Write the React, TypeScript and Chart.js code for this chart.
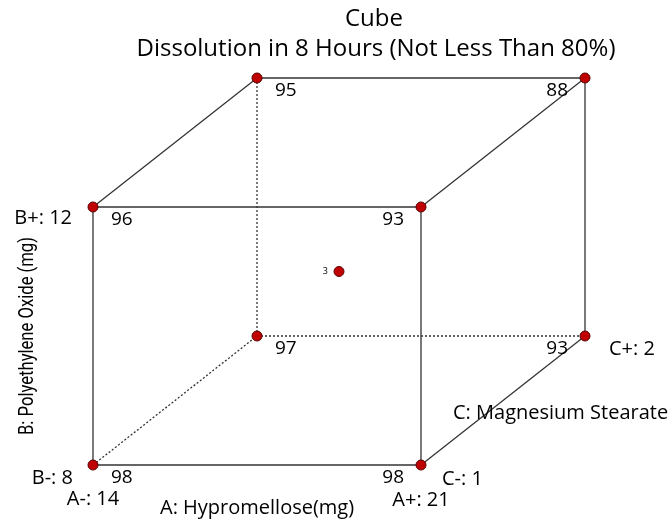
import React, { useEffect, useRef } from "react";
import { Chart, registerables } from "chart.js";

Chart.register(...registerables);

// Coded factor levels for the 8 cube corners (A, B, C) and their responses
const factorA = [-1, 1, -1, 1, -1, 1, -1, 1];
const factorB = [-1, -1, 1, 1, -1, -1, 1, 1];
const factorC = [-1, -1, -1, -1, 1, 1, 1, 1];
const responses = [98, 98, 96, 93, 97, 93, 95, 88];
const centerRuns = 3;

// Cube edges as pairs of corner indices, and whether the edge is hidden (dashed)
const edgeFrom = [0, 0, 1, 2, 4, 4, 5, 6, 0, 1, 2, 3];
const edgeTo = [1, 2, 3, 3, 5, 6, 7, 7, 4, 5, 6, 7];
const edgeHidden = [false, false, false, false, true, true, false, false, true, false, false, false];

const titleText = "Cube";
const subtitleText = "Dissolution in 8 Hours (Not Less Than 80%)";
const axisA = "A: Hypromellose(mg)";
const axisB = "B: Polyethylene Oxide (mg)";
const axisC = "C: Magnesium Stearate";
const levelA = ["A-: 14", "A+: 21"];
const levelB = ["B-: 8", "B+: 12"];
const levelC = ["C-: 1", "C+: 2"];

const DEPTH = 0.5;
const proj = (a: number, b: number, c: number) => ({
  x: (a + 1) / 2 + DEPTH * (c + 1) / 2,
  y: (b + 1) / 2 + DEPTH * (c + 1) / 2,
});

const FONT = "'Open Sans', 'Noto Sans', sans-serif";

export default function App() {
  const ref = useRef<HTMLCanvasElement | null>(null);

  useEffect(() => {
    document.body.style.margin = "0";
    const canvas = ref.current!;
    const corners = factorA.map((a, i) => proj(a, factorB[i], factorC[i]));
    const center = proj(0, 0, 0);

    const edgeSets: any[] = edgeFrom.map((f, i) => ({
      type: "line",
      data: [corners[f], corners[edgeTo[i]]],
      borderColor: "#333333",
      borderWidth: 1.3,
      borderDash: edgeHidden[i] ? [2, 2] : [],
      pointRadius: 0,
      showLine: true,
      fill: false,
      order: 2,
    }));

    const pointSet: any = {
      type: "scatter",
      data: [...corners, center],
      backgroundColor: "#c00000",
      borderColor: "#5a0000",
      borderWidth: 1,
      pointRadius: 5,
      order: 1,
    };

    const labelPlugin = {
      id: "cubeLabels",
      afterDraw(chart: any) {
        const ctx = chart.ctx;
        const xs = chart.scales.x;
        const ys = chart.scales.y;
        const px = (p: { x: number; y: number }) => ({ x: xs.getPixelForValue(p.x), y: ys.getPixelForValue(p.y) });
        ctx.save();
        ctx.fillStyle = "#000";
        ctx.textBaseline = "middle";

        const p0 = px(corners[0]);
        const p1 = px(corners[1]);
        const p2 = px(corners[2]);
        const p5 = px(corners[5]);
        const p6 = px(corners[6]);
        const p7 = px(corners[7]);
        const midX = (p6.x + p7.x) / 2 - 55;

        // titles
        ctx.textAlign = "center";
        ctx.font = `24px ${FONT}`;
        ctx.fillText(titleText, midX + 8, 19);
        ctx.fillText(subtitleText, midX + 10, 49);

        // response values at corners
        ctx.font = `19px ${FONT}`;
        corners.forEach((c, i) => {
          const p = px(c);
          if (factorA[i] < 0) {
            ctx.textAlign = "left";
            ctx.fillText(String(responses[i]), p.x + 18, p.y + 13);
          } else {
            ctx.textAlign = "right";
            ctx.fillText(String(responses[i]), p.x - 17, p.y + 13);
          }
        });

        // level labels
        ctx.font = `20px ${FONT}`;
        ctx.textAlign = "right";
        ctx.fillText(levelB[0], p0.x - 20, p0.y + 13);
        ctx.fillText(levelB[1], p2.x - 21, p2.y + 11);
        ctx.textAlign = "center";
        ctx.fillText(levelA[0], p0.x, p0.y + 34);
        ctx.fillText(levelA[1], p1.x, p1.y + 35);
        ctx.textAlign = "left";
        ctx.fillText(levelC[0], p1.x + 21, p1.y + 14);
        ctx.fillText(levelC[1], p5.x + 24, p5.y + 13);

        // axis names
        ctx.textAlign = "left";
        ctx.fillText(axisA, p0.x + 67, p0.y + 43);
        const mid = { x: (p1.x + p5.x) / 2, y: (p1.y + p5.y) / 2 };
        ctx.fillText(axisC, mid.x - 50, mid.y + 13);

        ctx.save();
        ctx.font = `20px Roboto, 'DejaVu Sans Condensed', sans-serif`;
        const w = ctx.measureText(axisB).width;
        ctx.translate(p0.x - 65, (p0.y + p2.y) / 2);
        ctx.rotate(-Math.PI / 2);
        ctx.scale(198 / w, 1);
        ctx.textAlign = "center";
        ctx.fillText(axisB, 0, 0);
        ctx.restore();

        // center point count
        const pc = px(center);
        ctx.font = `9px ${FONT}`;
        ctx.textAlign = "right";
        ctx.fillText(String(centerRuns), pc.x - 11, pc.y);
        ctx.restore();
      },
    };

    const chart = new Chart(canvas, {
      type: "scatter",
      data: { datasets: [...edgeSets, pointSet] },
      options: {
        animation: false,
        responsive: false,
        layout: { padding: 0, autoPadding: false },
        plugins: { legend: { display: false }, tooltip: { enabled: false }, title: { display: false } },
        scales: {
          x: { type: "linear", display: false, min: -93 / 328, max: -93 / 328 + 669 / 328 },
          y: { type: "linear", display: false, min: 465 / 258 - 528 / 258, max: 465 / 258 },
        },
      },
      plugins: [labelPlugin],
    });
    return () => chart.destroy();
  }, []);

  return (
    <div style={{ width: 669, height: 528 }}>
      <canvas ref={ref} width={669} height={528} />
    </div>
  );
}
